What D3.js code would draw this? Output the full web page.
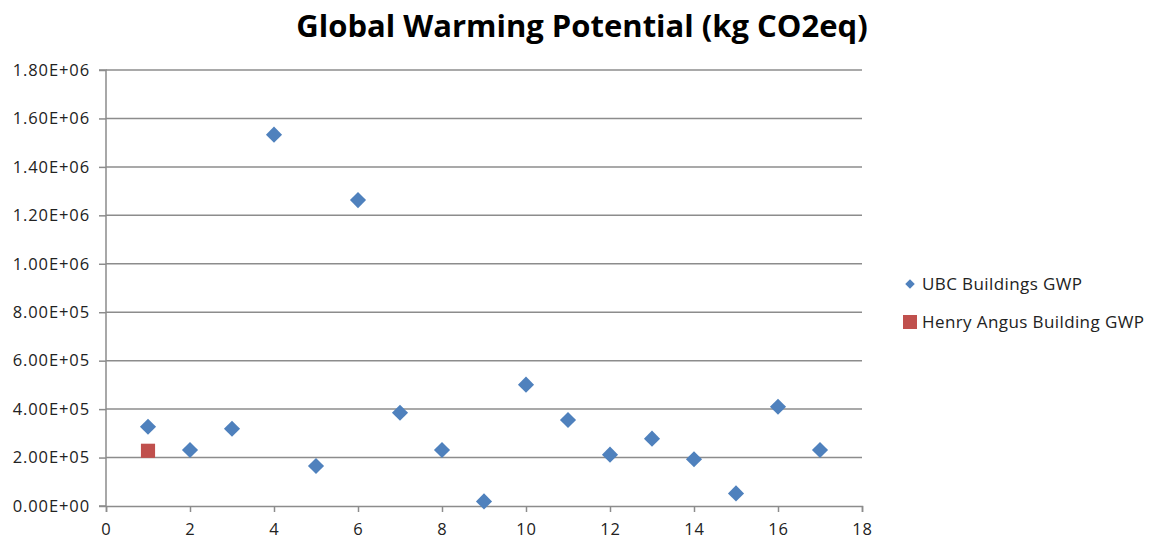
<!DOCTYPE html>
<html>
<head>
<meta charset="utf-8">
<script src="https://cdn.jsdelivr.net/npm/d3@7"></script>
<style>
  body { margin: 0; background: #fff; }
  svg { display: block; }
</style>
</head>
<body>
<svg id="chart"></svg>
<script>
// data
const buildingNo = [1, 2, 3, 4, 5, 6, 7, 8, 9, 10, 11, 12, 13, 14, 15, 16, 17];
const ubcGwp = [327000, 231000, 319000, 1533000, 165000, 1263000, 385000, 231000, 19000,
  501000, 355000, 212000, 278000, 193000, 52000, 410000, 231000];
const henryNo = [1];
const henryGwp = [228000];
const yTicks = [0, 200000, 400000, 600000, 800000, 1000000, 1200000, 1400000, 1600000, 1800000];
const xTicks = [0, 2, 4, 6, 8, 10, 12, 14, 16, 18];

const width = 1157, height = 548;
const blue = '#4f81bd', red = '#c0504d', grey = '#8c8c8c';

const svg = d3.select('#chart')
  .attr('width', width)
  .attr('height', height);

const x = d3.scaleLinear().domain([0, 18]).range([106, 862]);
const y = d3.scaleLinear().domain([0, 1800000]).range([506, 70]);

// Excel style 1.80E+06
const sci = v => {
  const [m, e] = v.toExponential(2).split('e');
  const n = Math.abs(+e);
  return m + 'E' + (+e < 0 ? '-' : '+') + (n < 10 ? '0' + n : n);
};

// gridlines
svg.append('g')
  .selectAll('line')
  .data(yTicks.slice(1))
  .join('line')
    .attr('x1', x(0)).attr('x2', x(18))
    .attr('y1', d => y(d)).attr('y2', d => y(d))
    .attr('stroke', grey).attr('stroke-width', 1.5);

const yAxis = d3.axisLeft(y).tickValues(yTicks).tickFormat(sci).tickSize(7).tickPadding(9);
const xAxis = d3.axisBottom(x).tickValues(xTicks).tickSize(6).tickPadding(11);

const gy = svg.append('g').attr('transform', `translate(${x(0)},0)`).call(yAxis);
const gx = svg.append('g').attr('transform', `translate(0,${y(0)})`).call(xAxis);

[gy, gx].forEach(g => {
  g.selectAll('.domain').attr('stroke', grey).attr('stroke-width', 1.5);
  g.selectAll('.tick line').attr('stroke', grey).attr('stroke-width', 1.5);
  g.selectAll('text')
    .attr('fill', '#222')
    .style('font-family', '"Open Sans", sans-serif')
    .style('font-size', '16.5px')
    .style('letter-spacing', '0.9px');
});
gy.select('.domain').attr('d', `M-7,${y(1800000)}H0V${y(0)}H-7`);

// points
const diamond = d3.symbol().type(d3.symbolSquare).size(130);
svg.append('g')
  .selectAll('path')
  .data(buildingNo)
  .join('path')
    .attr('d', diamond)
    .attr('transform', (d, i) => `translate(${x(d)},${y(ubcGwp[i])}) rotate(45)`)
    .attr('fill', blue);

const square = d3.symbol().type(d3.symbolSquare).size(200);
svg.append('g')
  .selectAll('path')
  .data(henryNo)
  .join('path')
    .attr('d', square)
    .attr('transform', (d, i) => `translate(${x(d)},${y(henryGwp[i])})`)
    .attr('fill', red);

// title
svg.append('text')
  .attr('x', 582).attr('y', 37)
  .attr('text-anchor', 'middle')
  .style('font-family', '"Open Sans", sans-serif')
  .style('font-weight', 'bold')
  .style('font-size', '31px')
  .attr('fill', '#000')
  .text('Global Warming Potential (kg CO2eq)');

// legend
const legend = svg.append('g').attr('transform', 'translate(910,0)');
legend.append('path')
  .attr('d', d3.symbol().type(d3.symbolSquare).size(45))
  .attr('transform', 'translate(0,284) rotate(45)')
  .attr('fill', blue);
legend.append('rect')
  .attr('x', -7).attr('y', 315).attr('width', 14).attr('height', 14)
  .attr('fill', red);
legend.selectAll('text')
  .data(['UBC Buildings GWP', 'Henry Angus Building GWP'])
  .join('text')
    .attr('x', 12)
    .attr('y', (d, i) => 284 + i * 38)
    .attr('dy', '0.35em')
    .attr('fill', '#222')
    .style('font-family', '"Open Sans", sans-serif')
    .style('font-size', '17px')
    .style('letter-spacing', '0.4px')
    .text(d => d);
</script>
</body>
</html>
